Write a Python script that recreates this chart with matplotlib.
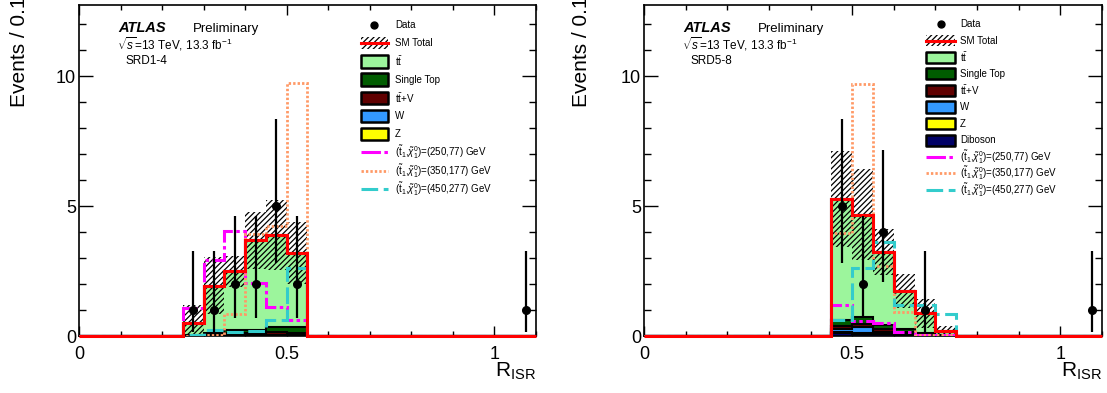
import numpy as np
import matplotlib
matplotlib.use("Agg")
import matplotlib.pyplot as plt
from matplotlib.patches import Rectangle

plt.rcParams["font.family"] = ["Liberation Sans", "DejaVu Sans"]
plt.rcParams["mathtext.fontset"] = "custom"
plt.rcParams["mathtext.rm"] = "Liberation Sans"
plt.rcParams["mathtext.it"] = "Liberation Sans:italic"
plt.rcParams["mathtext.bf"] = "Liberation Sans:bold"
plt.rcParams["hatch.linewidth"] = 0.9
plt.rcParams["lines.scale_dashes"] = False

# ---------------------------------------------------------------- binning
BIN_WIDTH = 0.05
edges = np.linspace(0.0, 1.1, 23)

# ---------------------------------------------------------------- SRD1-4
srd14_first_edge = 0.25
srd14_ttbar = [0.45, 1.81, 2.26, 3.46, 3.54, 2.84]
srd14_single_top = [0.03, 0.08, 0.12, 0.12, 0.20, 0.22]
srd14_ttv = [0.02, 0.03, 0.06, 0.07, 0.10, 0.09]
srd14_w = [0.00, 0.02, 0.04, 0.03, 0.04, 0.03]
srd14_z = [0.00, 0.01, 0.02, 0.02, 0.02, 0.02]
srd14_unc = [0.70, 1.10, 0.60, 1.10, 1.35, 1.20]
srd14_sig_250_77 = [1.10, 2.96, 4.06, 2.04, 1.15, 0.62]
srd14_sig_350_177 = [0.00, 0.06, 0.85, 3.95, 4.25, 9.75]
srd14_sig_450_277 = [0.05, 0.25, 0.18, 0.20, 0.64, 2.62]
srd14_data_x = [0.275, 0.325, 0.375, 0.425, 0.475, 0.525, 1.075]
srd14_data_n = [1, 1, 2, 2, 5, 2, 1]
srd14_data_lo = [0.17, 0.17, 0.71, 0.71, 2.84, 0.71, 0.17]
srd14_data_hi = [3.30, 3.30, 4.64, 4.64, 8.38, 4.64, 3.30]

# ---------------------------------------------------------------- SRD5-8
srd58_first_edge = 0.45
srd58_ttbar = [4.67, 3.93, 2.82, 1.47, 0.77, 0.17]
srd58_single_top = [0.22, 0.28, 0.14, 0.10, 0.03, 0.01]
srd58_ttv = [0.12, 0.10, 0.12, 0.07, 0.02, 0.01]
srd58_w = [0.12, 0.25, 0.06, 0.04, 0.01, 0.00]
srd58_z = [0.05, 0.02, 0.03, 0.02, 0.04, 0.02]
srd58_diboson = [0.12, 0.10, 0.08, 0.05, 0.02, 0.01]
srd58_unc = [1.85, 1.75, 0.90, 0.65, 0.55, 0.20]
srd58_sig_250_77 = [1.20, 0.58, 0.53, 0.19, 0.05, 0.05]
srd58_sig_350_177 = [3.98, 9.72, 2.70, 0.95, 0.06, 0.06]
srd58_sig_450_277 = [0.64, 2.65, 3.65, 1.20, 1.20, 0.86]
srd58_data_x = [0.475, 0.525, 0.575, 0.675, 1.075]
srd58_data_n = [5, 2, 4, 1, 1]
srd58_data_lo = [2.84, 0.71, 2.09, 0.17, 0.17]
srd58_data_hi = [8.38, 4.64, 7.16, 3.30, 3.30]

# ---------------------------------------------------------------- styles
COL_TTBAR = "#9cf59c"
COL_STOP = "#005c00"
COL_TTV = "#600000"
COL_W = "#3399ff"
COL_Z = "#ffff00"
COL_VV = "#000066"
HATCH = "//////"
SIG_STYLES = [
    ("#ff00ff", 2.2, (0, (14, 2.5, 2.5, 2.5))),
    ("#ff9966", 2.0, (0, (1.7, 1.5))),
    ("#33cccc", 2.2, (0, (12, 4))),
]
SIG_LABELS = [
    r"($\tilde{\mathrm{t}}_{1}$,$\tilde{\chi}_{1}^{0}$)=(250,77) GeV",
    r"($\tilde{\mathrm{t}}_{1}$,$\tilde{\chi}_{1}^{0}$)=(350,177) GeV",
    r"($\tilde{\mathrm{t}}_{1}$,$\tilde{\chi}_{1}^{0}$)=(450,277) GeV",
]


def full(values, first_edge):
    """Place a short list of bin contents into the full 0-1.1 binning."""
    out = np.zeros(len(edges) - 1)
    i = int(round(first_edge / BIN_WIDTH))
    out[i:i + len(values)] = values
    return out


def draw_legend(ax, backgrounds, x0, x1, xt, y_first, dy, box_h):
    """ROOT-style legend: one key per row in axes coordinates."""
    kw = dict(transform=ax.transAxes, clip_on=False)
    xc = 0.5 * (x0 + x1)
    rows = ["Data", "SM Total"] + [b[0] for b in backgrounds] + SIG_LABELS
    for i, label in enumerate(rows):
        y = y_first - i * dy
        ax.text(xt, y, label, va="center", ha="left", fontsize=7, **kw)
        if i == 0:
            ax.plot([xc], [y], "o", color="black", markersize=5, **kw)
        elif i == 1:
            ax.add_patch(Rectangle((x0, y - box_h / 2), x1 - x0, box_h,
                                   facecolor="none", edgecolor="black",
                                   linewidth=0, hatch=HATCH, **kw))
            ax.plot([x0, x1], [y, y], color="red", linewidth=2.2, **kw)
        elif i < 2 + len(backgrounds):
            color = backgrounds[i - 2][2]
            ax.add_patch(Rectangle((x0, y - box_h / 2), x1 - x0, box_h,
                                   facecolor=color, edgecolor="black",
                                   linewidth=1.8, joinstyle="round", **kw))
        else:
            color, lw, ls = SIG_STYLES[i - 2 - len(backgrounds)]
            ax.plot([x0, x1], [y, y], color=color, linewidth=lw, linestyle=ls,
                    solid_capstyle="butt", dash_capstyle="butt", **kw)


def draw_panel(ax, first_edge, backgrounds, unc, signals, data, region):
    # backgrounds are listed top of the stack first (legend order)
    cum = np.zeros(len(edges) - 1)
    tops = []
    for label, vals, color in reversed(backgrounds):
        cum = cum + full(vals, first_edge)
        tops.append((cum.copy(), color))
    sm = cum
    for top, color in reversed(tops):
        ax.stairs(top, edges, baseline=0, fill=True, facecolor=color,
                  edgecolor="black", linewidth=1.5, zorder=2)

    err = full(unc, first_edge)
    ax.stairs(sm + err, edges, baseline=np.clip(sm - err, 0, None), fill=True,
              facecolor="none", edgecolor="black", linewidth=0, hatch=HATCH,
              zorder=3)

    for vals, (color, lw, ls) in zip(signals, SIG_STYLES):
        ax.stairs(full(vals, first_edge), edges, color=color, linewidth=lw,
                  linestyle=ls, zorder=4)

    ax.stairs(sm, edges, color="red", linewidth=2.2, zorder=5, clip_on=False)

    x, n, lo, hi = (np.asarray(a, dtype=float) for a in data)
    ax.errorbar(x, n, yerr=[n - lo, hi - n], fmt="o", color="black",
                markersize=5.5, elinewidth=1.6, capsize=0, zorder=6)

    ax.set_xlim(0, 1.1)
    ax.set_ylim(0, 12.75)
    ax.set_xticks([0, 0.5, 1])
    ax.set_xticklabels(["0", "0.5", "1"])
    ax.set_xticks(np.arange(0, 1.11, 0.1), minor=True)
    ax.set_yticks([0, 5, 10])
    ax.set_yticks(np.arange(0, 13, 1), minor=True)
    ax.tick_params(which="both", direction="in", top=True, right=True,
                   labelsize=13, width=1.0)
    ax.tick_params(axis="x", which="major", length=7, pad=7)
    ax.tick_params(axis="x", which="minor", length=3.5)
    ax.tick_params(axis="y", which="major", length=10, pad=2)
    ax.tick_params(axis="y", which="minor", length=5)
    for s in ax.spines.values():
        s.set_linewidth(1.2)

    ax.text(0.085, 0.918, "ATLAS", transform=ax.transAxes, fontsize=10.5,
            fontweight="bold", fontstyle="italic")
    ax.text(0.2495, 0.918, "Preliminary", transform=ax.transAxes, fontsize=9.5)
    ax.text(0.083, 0.866, r"$\sqrt{s}$=13 TeV, 13.3 fb$^{-1}$",
            transform=ax.transAxes, fontsize=8.5)
    ax.text(0.1007, 0.822, region, transform=ax.transAxes, fontsize=8.5)


fig = plt.figure(figsize=(11.07, 3.93), dpi=100)
ax1 = fig.add_axes([0.07136, 0.14377, 0.41283, 0.84351])
ax2 = fig.add_axes([0.58175, 0.14377, 0.41373, 0.84351])

tt_label = r"t$\bar{\mathrm{t}}$"
ttv_label = r"t$\bar{\mathrm{t}}$+V"

bkg14 = [(tt_label, srd14_ttbar, COL_TTBAR), ("Single Top", srd14_single_top, COL_STOP),
         (ttv_label, srd14_ttv, COL_TTV), ("W", srd14_w, COL_W), ("Z", srd14_z, COL_Z)]
draw_panel(ax1, srd14_first_edge, bkg14, srd14_unc,
           [srd14_sig_250_77, srd14_sig_350_177, srd14_sig_450_277],
           (srd14_data_x, srd14_data_n, srd14_data_lo, srd14_data_hi),
           "SRD1-4")
draw_legend(ax1, bkg14, 0.617, 0.676, 0.691, 0.9397, 0.0549, 0.037)

bkg58 = [(tt_label, srd58_ttbar, COL_TTBAR), ("Single Top", srd58_single_top, COL_STOP),
         (ttv_label, srd58_ttv, COL_TTV), ("W", srd58_w, COL_W), ("Z", srd58_z, COL_Z),
         ("Diboson", srd58_diboson, COL_VV)]
draw_panel(ax2, srd58_first_edge, bkg58, srd58_unc,
           [srd58_sig_250_77, srd58_sig_350_177, srd58_sig_450_277],
           (srd58_data_x, srd58_data_n, srd58_data_lo, srd58_data_hi),
           "SRD5-8")
draw_legend(ax2, bkg58, 0.616, 0.679, 0.690, 0.9427, 0.0501, 0.034)

for xc in (0.0172, 0.5257):
    fig.text(xc, 0.728, "Events / 0.1", rotation=90, ha="center", va="bottom",
             fontsize=15)
for xr in (0.4842, 0.9955):
    fig.text(xr, 0.0407, r"R$_{\mathrm{ISR}}$", ha="right", va="baseline",
             fontsize=15)

fig.savefig("out.png", dpi=100)
